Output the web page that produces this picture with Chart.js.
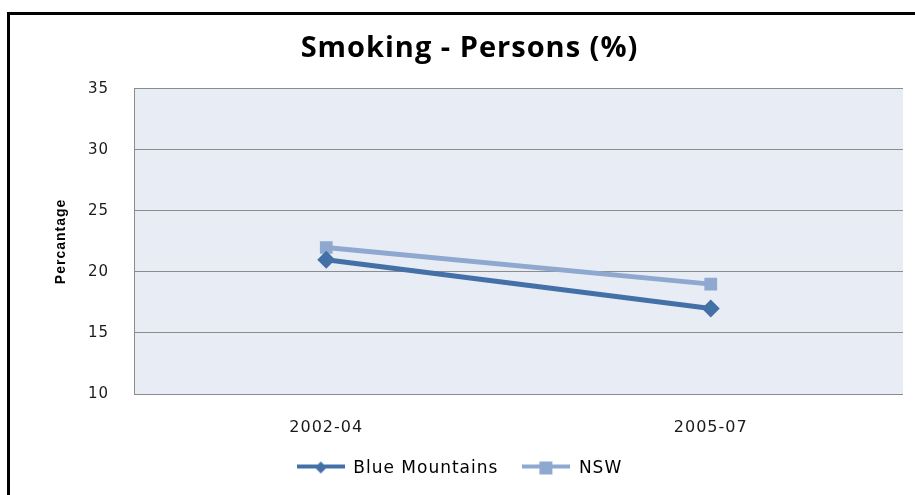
<!DOCTYPE html>
<html>
<head>
<meta charset="utf-8">
<script src="https://cdn.jsdelivr.net/npm/chart.js@4.4.1/dist/chart.umd.min.js"></script>
<style>
    html, body { margin: 0; padding: 0; background: #fff; }
    #wrap { position: relative; width: 915px; height: 495px; overflow: hidden; }
    #frame {
        position: absolute; left: 7px; top: 12px; width: 1000px; height: 600px;
        border-left: 3px solid #000; border-top: 3px solid #000;
    }
    canvas { position: absolute; left: 0; top: 0; }
</style>
</head>
<body>
<div id="wrap">
    <div id="frame"></div>
    <canvas id="chart" width="915" height="495"></canvas>
</div>
<script>
// Chart data
const periods = ['2002-04', '2005-07'];
const blueMountains = [21, 17];
const nsw = [22, 19];
const yTicks = [10, 15, 20, 25, 30, 35];

const darkBlue = '#4470a8';
const lightBlue = '#8fa8cf';

// Build a "line + marker" swatch for the legend
function legendSwatch(color, marker) {
    const c = document.createElement('canvas');
    c.width = 48;
    c.height = 16;
    const g = c.getContext('2d');
    g.strokeStyle = color;
    g.lineWidth = 4;
    g.beginPath();
    g.moveTo(0, 6);
    g.lineTo(48, 6);
    g.stroke();
    g.fillStyle = color;
    if (marker === 'diamond') {
        g.beginPath();
        g.moveTo(24, 1);
        g.lineTo(30, 7);
        g.lineTo(24, 13);
        g.lineTo(18, 7);
        g.closePath();
        g.fill();
    } else {
        g.fillRect(17, 1, 13, 13);
    }
    return c;
}

// Plot area background, text spacing, small legend nudge
const plotBg = {
    id: 'plotBg',
    beforeLayout(chart) {
        chart.ctx.letterSpacing = '1px';
    },
    afterLayout(chart) {
        if (chart.legend) {
            chart.legend.left -= 10;
            chart.legend.right -= 10;
        }
    },
    beforeDraw(chart) {
        const a = chart.chartArea;
        const ctx = chart.ctx;
        ctx.letterSpacing = '1px';
        ctx.save();
        ctx.fillStyle = '#e8edf5';
        ctx.fillRect(a.left, a.top, a.right - a.left, a.bottom - a.top);
        ctx.restore();
    }
};

new Chart(document.getElementById('chart'), {
    type: 'line',
    data: {
        labels: periods,
        datasets: [{
            label: 'Blue Mountains',
            data: blueMountains,
            borderColor: darkBlue,
            backgroundColor: darkBlue,
            borderWidth: 5,
            pointStyle: 'rectRot',
            pointRadius: 9,
            pointBorderWidth: 0,
            legendSwatch: legendSwatch(darkBlue, 'diamond')
        }, {
            label: 'NSW',
            data: nsw,
            borderColor: lightBlue,
            backgroundColor: lightBlue,
            borderWidth: 5,
            pointStyle: 'rect',
            pointRadius: 9,
            pointBorderWidth: 0,
            legendSwatch: legendSwatch(lightBlue, 'square')
        }]
    },
    options: {
        responsive: false,
        animation: false,
        layout: {
            padding: { left: 36, right: 12, top: 0, bottom: 8 }
        },
        plugins: {
            title: {
                display: true,
                text: 'Smoking - Persons (%)',
                color: '#000',
                font: { family: 'Open Sans', size: 29, weight: 'bold' },
                padding: { top: 31, bottom: 23 }
            },
            legend: {
                position: 'bottom',
                labels: {
                    color: '#000',
                    font: { family: 'DejaVu Sans', size: 17 },
                    usePointStyle: true,
                    pointStyleWidth: 48,
                    boxHeight: 14,
                    padding: 24,
                    generateLabels(chart) {
                        return chart.data.datasets.map((ds, i) => ({
                            text: ds.label,
                            pointStyle: ds.legendSwatch,
                            fontColor: '#000',
                            datasetIndex: i,
                            hidden: false
                        }));
                    }
                }
            },
            tooltip: { enabled: false }
        },
        scales: {
            x: {
                offset: true,
                afterFit(axis) { axis.height = 42; },
                grid: { display: false, drawTicks: false },
                border: { display: false },
                ticks: {
                    color: '#1a1a1a',
                    font: { family: 'DejaVu Sans', size: 16 },
                    padding: 24
                }
            },
            y: {
                min: 10,
                max: 35,
                afterBuildTicks(axis) {
                    axis.ticks = yTicks.map(v => ({ value: v }));
                },
                afterFit(axis) { axis.width = 98; },
                grid: { color: '#8c8c8c', lineWidth: 1, drawTicks: false },
                border: { display: true, color: '#8c8c8c', width: 1 },
                ticks: {
                    color: '#1a1a1a',
                    font: { family: 'DejaVu Sans', size: 15 },
                    padding: 25
                },
                title: {
                    display: true,
                    text: 'Percantage',
                    color: '#000',
                    font: { family: 'Liberation Sans', size: 14, weight: 'bold' },
                    padding: { top: 17, bottom: 0 }
                }
            }
        }
    },
    plugins: [plotBg]
});
</script>
</body>
</html>
